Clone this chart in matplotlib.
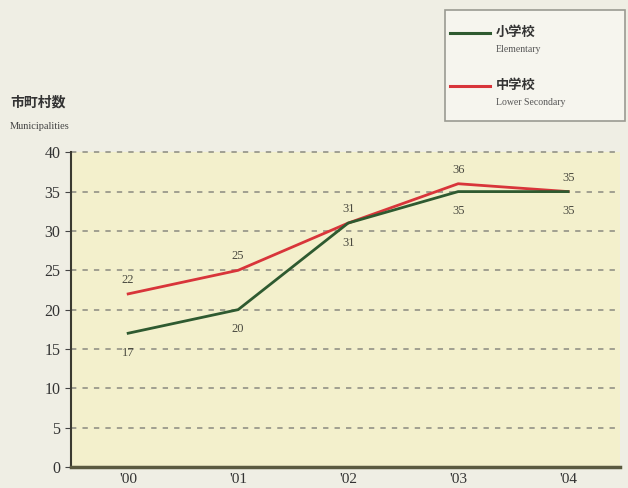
import matplotlib.pyplot as plt
from matplotlib.patches import Rectangle
from matplotlib.lines import Line2D

plt.rcParams['font.family'] = ['Liberation Serif', 'Noto Sans CJK JP']

# data
years = ["'00", "'01", "'02", "'03", "'04"]
elementary = [17, 20, 31, 35, 35]
lower_secondary = [22, 25, 31, 36, 35]
yticks = [0, 5, 10, 15, 20, 25, 30, 35, 40]

green = '#2e5a30'
red = '#d8353a'
bg = '#efeee4'
plot_bg = '#f3f0cc'

fig = plt.figure(figsize=(6.28, 4.88), dpi=100, facecolor=bg)
ax = fig.add_axes([0.113, 0.043, 0.874, 0.645])
ax.set_facecolor(plot_bg)

x = list(range(len(years)))
ax.plot(x, elementary, color=green, lw=2.0, solid_joinstyle='round', zorder=4)
ax.plot(x, lower_secondary, color=red, lw=2.0, solid_joinstyle='round', zorder=3)

# value labels
for xi, v in zip(x, elementary):
    ax.annotate(str(v), (xi, v), xytext=(0, -14), textcoords='offset points',
                ha='center', va='center', fontsize=9, color='#4a4a40')
for xi, v in zip(x, lower_secondary):
    ax.annotate(str(v), (xi, v), xytext=(0, 10), textcoords='offset points',
                ha='center', va='center', fontsize=9, color='#4a4a40')

ax.set_xlim(-0.52, 4.47)
ax.set_ylim(0, 40)
ax.set_yticks(yticks)
ax.set_xticks(x)
ax.set_xticklabels(years, fontsize=11, color='#333333')
ax.tick_params(axis='y', labelsize=11.5, labelcolor='#333333', length=4, color='#444444')
ax.tick_params(axis='x', length=0, pad=4)

for y in yticks[1:]:
    ax.axhline(y, color='#8a8a80', lw=1.1, ls=(0, (3.5, 4)), zorder=1, clip_on=False)

for s in ['top', 'right']:
    ax.spines[s].set_visible(False)
ax.spines['left'].set_color('#3a3a30')
ax.spines['left'].set_linewidth(1.5)
ax.spines['bottom'].set_color('#5a5a40')
ax.spines['bottom'].set_linewidth(2.5)

# axis title
fig.text(0.016, 0.790, '市町村数', fontsize=10, family=['Noto Sans CJK JP'],
         weight='bold', color='#333333', va='center')
fig.text(0.016, 0.740, 'Municipalities', fontsize=7.5, color='#444444', va='center')

# legend box
fig.patches.append(Rectangle((0.709, 0.752), 0.287, 0.228, transform=fig.transFigure,
                             facecolor='#f6f5ee', edgecolor='#9a9a92', lw=1.2))
fig.lines.append(Line2D([0.717, 0.780], [0.932, 0.932], transform=fig.transFigure,
                        color=green, lw=2.2))
fig.lines.append(Line2D([0.717, 0.780], [0.823, 0.823], transform=fig.transFigure,
                        color=red, lw=2.2))
fig.text(0.790, 0.935, '小学校', fontsize=9.5, family=['Noto Sans CJK JP'],
         weight='bold', color='#333333', va='center')
fig.text(0.790, 0.898, 'Elementary', fontsize=7, color='#555555', va='center')
fig.text(0.790, 0.826, '中学校', fontsize=9.5, family=['Noto Sans CJK JP'],
         weight='bold', color='#333333', va='center')
fig.text(0.790, 0.789, 'Lower Secondary', fontsize=7, color='#555555', va='center')

fig.savefig('out.png', dpi=100, facecolor=bg)
